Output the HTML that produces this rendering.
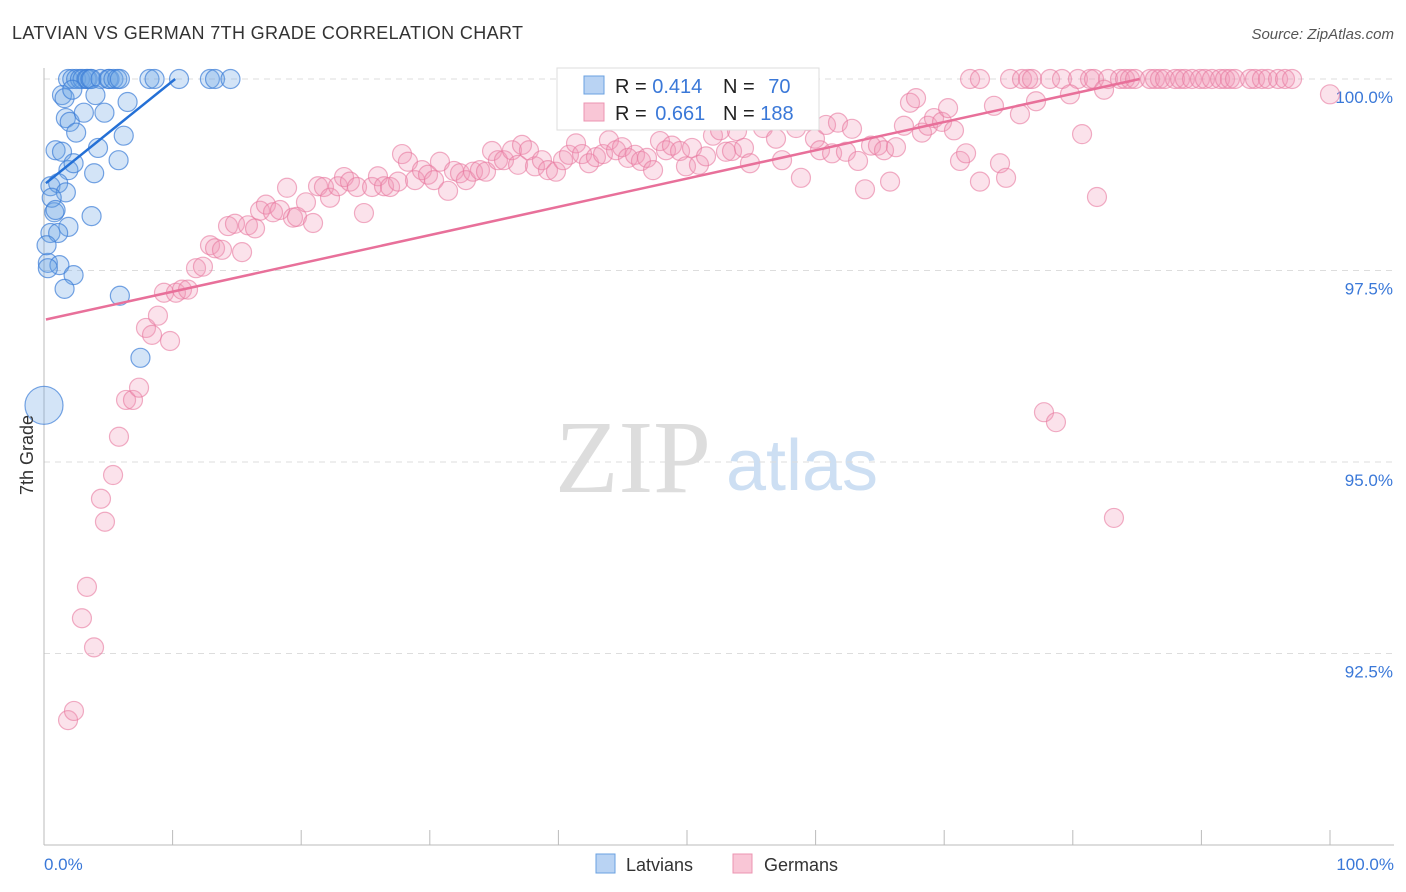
<!DOCTYPE html>
<html><head><meta charset="utf-8"><style>
body{margin:0;background:#fff;font-family:"Liberation Sans",sans-serif;}
svg{display:block}
</style></head><body>
<svg id="chart" width="1406" height="892">
<text x="12" y="39" font-size="18" fill="#333" textLength="511">LATVIAN VS GERMAN 7TH GRADE CORRELATION CHART</text>
<text x="1394" y="39" font-size="15" fill="#555" text-anchor="end" font-style="italic">Source: ZipAtlas.com</text>
<g>
<text x="633" y="492" font-size="104" fill="#ddd" font-family="Liberation Serif,serif" text-anchor="middle">ZIP</text>
<text x="802" y="490" font-size="72" fill="#cddff3" text-anchor="middle">atlas</text>
</g>
<g id="grid"></g><g id="axes"></g><g id="pts"></g><g id="lines"></g>
<g>
<rect x="557" y="68" width="262" height="62" fill="#fff" stroke="#ddd"/>
<rect x="584" y="76" width="20" height="18" fill="#b9d3f3" stroke="#6aa0e0"/>
<rect x="584" y="103" width="20" height="18" fill="#f9c6d6" stroke="#ec94b1"/>
<text x="615" y="93" font-size="20" fill="#222">R = <tspan fill="#3a78d8">0.414</tspan></text>
<text x="723" y="93" font-size="20" fill="#222">N = <tspan fill="#3a78d8" dx="8">70</tspan></text>
<text x="615" y="120" font-size="20" fill="#222">R = <tspan fill="#3a78d8" dx="3">0.661</tspan></text>
<text x="723" y="120" font-size="20" fill="#222">N = <tspan fill="#3a78d8">188</tspan></text>
</g>
<g>
<rect x="596" y="854" width="19" height="19" fill="#b9d3f3" stroke="#6aa0e0"/>
<text x="626" y="871" font-size="18" fill="#333">Latvians</text>
<rect x="733" y="854" width="19" height="19" fill="#f9c6d6" stroke="#ec94b1"/>
<text x="764" y="871" font-size="18" fill="#333">Germans</text>
</g>
<text x="0" y="0" transform="translate(33,455) rotate(-90)" font-size="18" fill="#333" text-anchor="middle">7th Grade</text>
</svg>
<script>
const NS="http://www.w3.org/2000/svg";
const yTicks=[100,97.5,95,92.5];
const yTickLabels=["100.0%","97.5%","95.0%","92.5%"];
const xLabels=["0.0%","100.0%"];
const blueX=[1.87,2.2,2.5,2.8,3.0,3.3,3.4,3.6,3.7,4.4,5.0,5.1,5.4,5.7,5.9,8.2,8.6,10.5,12.9,13.3,14.5,1.4,1.6,2.2,4.0,6.5,1.7,2.0,3.1,4.7,6.2,2.5,0.9,1.4,4.2,5.8,3.9,1.9,2.3,0.5,1.1,1.7,0.8,3.7,1.9,0.5,1.1,0.3,1.2,2.3,0.3,1.6,5.9,7.5,0.6,0.9,0.2];
const blueY=[100,100,100,100,100,100,100,100,100,100,100,100,100,100,100,100,100,100,100,100,100,99.79,99.75,99.86,99.79,99.70,99.49,99.44,99.56,99.56,99.26,99.30,99.07,99.05,99.10,98.94,98.77,98.81,98.90,98.60,98.64,98.52,98.26,98.21,98.07,97.99,97.99,97.60,97.57,97.44,97.53,97.26,97.17,96.36,98.45,98.29,97.83];
const blueBig=[0,95.74];
const pinkX=[72.01,72.78,75.12,76.05,76.52,76.83,78.23,79.16,80.40,81.34,81.65,82.74,83.67,84.06,84.45,84.84,86.00,86.39,86.78,87.17,87.95,88.34,88.72,89.27,89.89,90.28,90.82,91.45,91.84,92.22,92.61,93.78,94.17,94.71,95.18,95.96,96.50,97.05,
100,1.87,2.33,2.95,3.34,3.89,4.43,4.74,5.37,5.83,6.38,6.92,7.39,7.93,8.40,8.86,9.80,9.33,10.26,10.73,11.20,11.82,12.36,12.91,13.30,13.84,14.31,14.85,15.40,15.86,16.41,16.80,17.26,17.81,18.35,18.90,19.36,19.67,20.37,20.92,21.31,21.77,22.24,22.86,23.33,23.79,24.34,24.88,25.51,25.97,26.44,26.91,27.53,27.84,28.30,28.85,29.39,29.86,30.33,30.79,31.42,31.88,32.35,32.81,33.36,33.90,34.37,34.84,35.30,35.77,36.39,36.86,37.17,37.71,38.18,38.72,39.19,39.81,40.36,40.82,41.37,41.84,42.38,42.92,43.47,43.93,44.48,44.95,45.41,45.96,46.42,46.89,47.36,47.90,48.37,48.83,49.46,49.92,50.39,50.93,51.48,52.02,52.57,53.03,53.50,53.89,54.43,54.90,55.37,55.91,56.45,56.92,57.39,57.85,58.48,58.86,59.41,59.95,60.34,60.81,61.28,61.74,62.36,62.83,63.30,63.84,64.31,64.85,65.32,65.79,66.25,66.87,67.34,67.81,68.27,68.74,69.21,69.83,70.30,70.76,71.23,71.70,72.78,73.87,74.34,74.81,75.89,77.14,79.78,80.72,81.88,77.76,78.69,83.20,82.43];
const pinkY=[100,100,100,100,100,100,100,100,100,100,100,100,100,100,100,100,100,100,100,100,100,100,100,100,100,100,100,100,100,100,100,100,100,100,100,100,100,100,
99.80,91.63,91.75,92.96,93.37,92.58,94.52,94.22,94.83,95.33,95.81,95.81,95.97,96.75,96.66,96.91,96.58,97.21,97.21,97.25,97.25,97.53,97.55,97.83,97.79,97.77,98.08,98.11,97.74,98.09,98.05,98.28,98.36,98.26,98.29,98.58,98.19,98.20,98.39,98.12,98.60,98.59,98.45,98.60,98.72,98.66,98.59,98.25,98.59,98.73,98.60,98.59,98.66,99.02,98.92,98.68,98.81,98.75,98.68,98.92,98.54,98.80,98.77,98.68,98.79,98.81,98.79,99.06,98.94,98.94,99.07,98.88,99.14,99.07,98.86,98.94,98.81,98.79,98.94,99.01,99.16,99.02,98.90,98.98,99.02,99.20,99.07,99.11,98.97,99.01,98.93,98.97,98.81,99.19,99.07,99.13,99.06,98.86,99.10,98.88,98.99,99.26,99.33,99.05,99.06,99.32,99.10,98.90,99.50,99.36,99.56,99.22,98.94,99.58,99.36,98.71,99.45,99.22,99.07,99.40,99.03,99.43,99.05,99.35,98.93,98.56,99.13,99.13,99.07,98.66,99.11,99.39,99.69,99.75,99.30,99.39,99.49,99.44,99.62,99.33,98.93,99.03,98.66,99.65,98.90,98.71,99.54,99.71,99.80,99.28,98.46,95.65,95.52,94.27,99.86];
const blueTrend=[[0.15,98.64],[10.2,100]];
const pinkTrend=[[0.15,96.86],[85.2,100]];
const X0=44,X1=1330,YT=79,PXPERPCT=76.6;
const xs=v=>X0+(X1-X0)*v/100;
const ys=v=>YT+(100-v)*PXPERPCT;
const g=id=>document.getElementById(id);
function mk(tag,attrs,parent){const e=document.createElementNS(NS,tag);for(const k in attrs)e.setAttribute(k,attrs[k]);parent.appendChild(e);return e;}
yTicks.forEach((t,i)=>{
 const l=mk('line',{x1:X0,x2:1394,y1:ys(t),y2:ys(t),stroke:'#ddd','stroke-dasharray':'6,5'},g('grid'));
 
 
 const tx=mk('text',{x:1393,y:ys(t)+24,'font-size':17,fill:'#3a78d8','text-anchor':'end'},g('axes'));
 tx.textContent=yTickLabels[i];
 
 
});
const ax=mk('line',{x1:X0,x2:X0,y1:68,y2:845,stroke:'#bbb'},g('axes'));


const bx=mk('line',{x1:X0,x2:1394,y1:845,y2:845,stroke:'#bbb'},g('axes'));


for(let i=0;i<=10;i++){const t=mk('line',{x1:xs(i*10),x2:xs(i*10),y1:830,y2:845,stroke:'#bbb'},g('axes'));
 
 }
const xl0=mk('text',{x:44,y:870,'font-size':17,fill:'#3a78d8'},g('axes'));xl0.textContent=xLabels[0];


const xl1=mk('text',{x:1394,y:870,'font-size':17,fill:'#3a78d8','text-anchor':'end'},g('axes'));xl1.textContent=xLabels[1];


pinkX.forEach((x,i)=>{const c=mk('circle',{cx:xs(x),cy:ys(pinkY[i]),r:9.5,fill:'rgba(242,150,182,0.28)',stroke:'rgba(232,120,158,0.6)','stroke-width':1.2},g('pts'));
 
 });
blueX.forEach((x,i)=>{const c=mk('circle',{cx:xs(x),cy:ys(blueY[i]),r:9.5,fill:'rgba(110,165,230,0.3)',stroke:'rgba(60,125,215,0.7)','stroke-width':1.2},g('pts'));
 
 });
const bb=mk('circle',{cx:xs(blueBig[0]),cy:ys(blueBig[1]),r:19,fill:'rgba(110,165,230,0.3)',stroke:'rgba(60,125,215,0.7)','stroke-width':1.2},g('pts'));


const bl=mk('line',{x1:xs(blueTrend[0][0]),y1:ys(blueTrend[0][1]),x2:xs(blueTrend[1][0]),y2:ys(blueTrend[1][1]),stroke:'#2470d6','stroke-width':2.5},g('lines'));


const pl=mk('line',{x1:xs(pinkTrend[0][0]),y1:ys(pinkTrend[0][1]),x2:xs(pinkTrend[1][0]),y2:ys(pinkTrend[1][1]),stroke:'#e8709a','stroke-width':2.5},g('lines'));


</script>
</body></html>
